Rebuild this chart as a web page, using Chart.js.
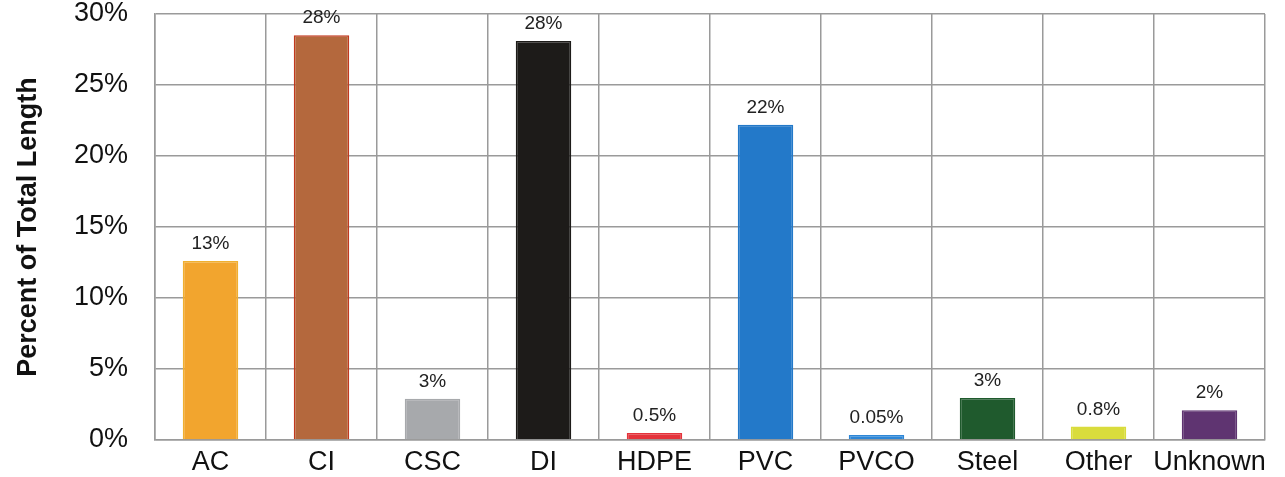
<!DOCTYPE html>
<html lang="en">
<head>
    <meta charset="UTF-8">
    <title>Percent of Total Length</title>
    <script src="https://cdn.jsdelivr.net/npm/chart.js@4.4.1/dist/chart.umd.min.js"></script>
    <style>
        html, body { margin:0; padding:0; background:#fff; }
        #wrap { width:1285px; height:477px; }
    </style>
</head>
<body>
<div id="wrap"><canvas id="lenChart" width="1285" height="477"></canvas></div>
<script>
    // materials
    const categories = ['AC', 'CI', 'CSC', 'DI', 'HDPE', 'PVC', 'PVCO', 'Steel', 'Other', 'Unknown'];
    // bar heights (percent)
    const percents = [12.6, 28.5, 2.9, 28.1, 0.5, 22.2, 0.35, 2.95, 0.95, 2.1];
    // printed labels above the bars
    const valueLabels = ['13%', '28%', '3%', '28%', '0.5%', '22%', '0.05%', '3%', '0.8%', '2%'];
    const barColors = ['#f2a52e', '#b4683d', '#a7a9ac', '#1d1b19', '#e4333b', '#2379c9', '#2d86d6', '#1f5a2d', '#d9dc3c', '#5f3471'];
    const barBorders = ['#f0b030', '#c2381e', '#a7a9ac', '#1d1b19', '#e4333b', '#2379c9', '#2d86d6', '#1f5a2d', '#d9dc3c', '#5f3471'];
    const yTicks = [0, 5, 10, 15, 20, 25, 30];

    const FONT = "'Liberation Sans', Arial, Helvetica, sans-serif";

    // draws the % text over each bar
    const valueLabelPlugin = {
        id: 'valueLabels',
        afterDatasetsDraw(chart) {
            const ctx = chart.ctx;
            const meta = chart.getDatasetMeta(0);
            ctx.save();
            ctx.font = '19px ' + FONT;
            ctx.fillStyle = '#222';
            ctx.textAlign = 'center';
            ctx.textBaseline = 'alphabetic';
            meta.data.forEach((bar, i) => {
                ctx.fillText(valueLabels[i], bar.x, bar.y - 12);
            });
            ctx.restore();
        }
    };

    const ctx = document.getElementById('lenChart').getContext('2d');
    const chart = new Chart(ctx, {
        type: 'bar',
        data: {
            labels: categories,
            datasets: [{
                data: percents,
                backgroundColor: barColors,
                borderColor: barBorders,
                borderWidth: 1.5,
                barPercentage: 0.5,
                categoryPercentage: 1.0
            }]
        },
        options: {
            responsive: false,
            animation: false,
            layout: { padding: { top: 14, right: 20, left: 0, bottom: 0 } },
            plugins: {
                legend: { display: false },
                tooltip: { enabled: false }
            },
            scales: {
                x: {
                    grid: { color: '#9a9a9a', lineWidth: 1.5, drawTicks: false, offset: true },
                    border: { color: '#9a9a9a', width: 1.5 },
                    ticks: { color: '#111', font: { family: FONT, size: 27 }, padding: 6, maxRotation: 0, autoSkip: false },
                    afterFit(scale) { scale.height = 37; }
                },
                y: {
                    min: 0,
                    max: 30,
                    afterBuildTicks(scale) { scale.ticks = yTicks.map(v => ({ value: v })); },
                    // invisible tick marks give the gap between labels and axis
                    grid: { color: '#9a9a9a', lineWidth: 1.5, drawTicks: true, tickLength: 27, tickColor: 'rgba(0,0,0,0)' },
                    border: { color: '#9a9a9a', width: 1.5 },
                    ticks: {
                        color: '#111',
                        font: { family: FONT, size: 27, lineHeight: 1.0 },
                        padding: 0,
                        callback: v => v + '%'
                    },
                    title: {
                        display: true,
                        text: 'Percent of Total Length',
                        color: '#111',
                        font: { family: FONT, size: 27, weight: 'bold' },
                        padding: { top: 12, bottom: 0 }
                    },
                    afterFit(scale) { scale.width = 155; }
                }
            }
        },
        plugins: [valueLabelPlugin]
    });
</script>
</body>
</html>
